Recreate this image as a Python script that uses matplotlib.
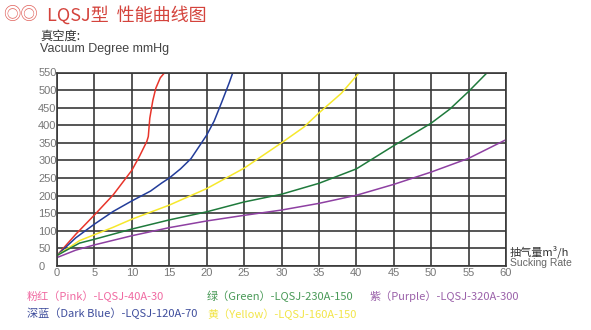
import matplotlib.pyplot as plt

plt.rcParams['font.family'] = ['Liberation Sans', 'Noto Sans CJK SC', 'DejaVu Sans']

# curve data: suction rate (m3/h) vs vacuum degree (mmHg)
pink_x = [0, 2.5, 5, 7.5, 10, 11, 12, 12.2, 12.4, 12.8, 13.2, 13.8, 14.4]
pink_y = [30, 90, 145, 202, 272, 311, 354, 368, 420, 470, 505, 535, 550]

blue_x = [0, 2.5, 5, 7.5, 10, 12.5, 14, 15, 16.5, 17.9, 19, 20, 21, 22, 23, 23.5]
blue_y = [30, 80, 119, 155, 185, 213, 236, 250, 276, 305, 340, 372, 412, 465, 520, 550]

yellow_x = [0, 3, 5, 7.5, 10, 15, 20, 25, 30, 33, 35, 38, 40.4]
yellow_y = [30, 72, 89, 110, 133, 173, 220, 278, 350, 395, 435, 491, 550]

green_x = [0, 3, 5, 10, 15, 20, 25, 30, 35, 40, 45, 50, 52.5, 55, 57.5]
green_y = [30, 65, 76, 105, 131, 154, 182, 204, 235, 276, 342, 406, 446, 496, 550]

purple_x = [0, 2.5, 5, 10, 15, 20, 25, 30, 35, 40, 45, 50, 55, 60]
purple_y = [24, 45, 60, 86, 109, 128, 144, 159, 178, 201, 232, 267, 306, 359]

x_ticks = list(range(0, 61, 5))
y_ticks = list(range(0, 551, 50))

fig = plt.figure(figsize=(5.91, 3.30), dpi=100, facecolor='white')
ax = fig.add_axes([57 / 591, 1 - 266 / 330, 449 / 591, 193.5 / 330])

grid_c = '#383838'
ax.set_xlim(0, 60)
ax.set_ylim(0, 550)
ax.set_xticks(x_ticks)
ax.set_yticks(y_ticks)
ax.grid(True, color=grid_c, linewidth=1.2)
for s in ax.spines.values():
    s.set_color(grid_c)
    s.set_linewidth(1.2)
ax.tick_params(length=0, labelsize=8, labelcolor='#777777')
# y labels start at a fixed left edge, like the original
ax.tick_params(axis='y', pad=13.5)
for lab in ax.get_yticklabels():
    lab.set_horizontalalignment('left')
ax.tick_params(axis='x', pad=1.5)

ax.plot(pink_x, pink_y, color='#e8352b', lw=1.1)
ax.plot(blue_x, blue_y, color='#233d9a', lw=1.1)
ax.plot(yellow_x, yellow_y, color='#f6e82c', lw=1.1)
ax.plot(green_x, green_y, color='#1f7a3c', lw=1.1)
ax.plot(purple_x, purple_y, color='#8e40a2', lw=1.1)

# title and axis captions
cjk = ['Noto Sans CJK SC']
fig.text(3 / 591, 1 - 15 / 330, '◎◎', color='#e0605a', fontsize=12.5, family=cjk, va='center')
fig.text(47 / 591, 1 - 15 / 330, 'LQSJ型  性能曲线图', color='#d4433c', fontsize=13,
         family=cjk, va='center')
fig.text(40 / 591, 1 - 36 / 330, '真空度:', color='#333333', fontsize=8.8, family=cjk, va='center')
fig.text(40 / 591, 1 - 49 / 330, 'Vacuum Degree mmHg', color='#444444', fontsize=9, va='center')
fig.text(510 / 591, 1 - 252 / 330, '抽气量m³/h', color='#333333', fontsize=8, family=cjk, va='center')
fig.text(510 / 591, 1 - 263 / 330, 'Sucking Rate', color='#666666', fontsize=7.5, va='center')

# colour key
fig.text(27 / 591, 1 - 296 / 330, '粉红（Pink）-LQSJ-40A-30', color='#f06aa2', fontsize=8, family=cjk, va='center')
fig.text(27 / 591, 1 - 313 / 330, '深蓝（Dark Blue）-LQSJ-120A-70', color='#3e4d9c', fontsize=8, family=cjk, va='center')
fig.text(207 / 591, 1 - 296 / 330, '绿（Green）-LQSJ-230A-150', color='#4a9a58', fontsize=8, family=cjk, va='center')
fig.text(207 / 591, 1 - 314 / 330, '黄（Yellow）-LQSJ-160A-150', color='#f2e548', fontsize=8, family=cjk, va='center')
fig.text(370 / 591, 1 - 296 / 330, '紫（Purple）-LQSJ-320A-300', color='#9b62aa', fontsize=8, family=cjk, va='center')

fig.savefig('out.png', dpi=100, facecolor='white')
